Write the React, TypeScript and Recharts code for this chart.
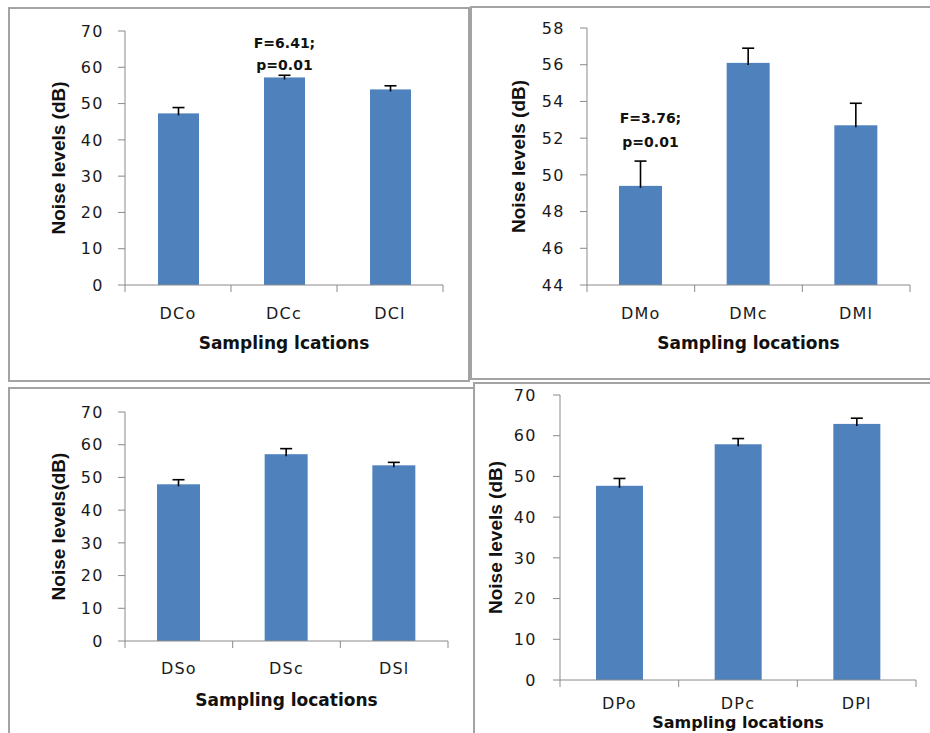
import React from "react";
import { Bar, BarChart, Label, LabelList, XAxis, YAxis } from "recharts";

// top-left panel
const dcCats = ["DCo", "DCc", "DCl"];
const dcMeans = [47.3, 57.2, 53.9];
const dcErrs = [1.6, 0.6, 1.0];
const dcNote = ["F=6.41;", "p=0.01"];

// top-right panel
const dmCats = ["DMo", "DMc", "DMl"];
const dmMeans = [49.4, 56.1, 52.7];
const dmErrs = [1.35, 0.8, 1.2];
const dmNote = ["F=3.76;", "p=0.01"];

// bottom-left panel
const dsCats = ["DSo", "DSc", "DSl"];
const dsMeans = [47.9, 57.1, 53.7];
const dsErrs = [1.4, 1.7, 0.9];

// bottom-right panel
const dpCats = ["DPo", "DPc", "DPl"];
const dpMeans = [47.7, 57.9, 62.9];
const dpErrs = [1.8, 1.4, 1.4];

const ticks0to70 = [0, 10, 20, 30, 40, 50, 60, 70];
const ticks44to58 = [44, 46, 48, 50, 52, 54, 56, 58];

const AXIS = "#8a8a8a";
const BAR = "#4f81bd";
const FONT = "DejaVu Sans";

type Row = { name: string; value: number; err: number };

const rows = (cats: string[], means: number[], errs: number[]): Row[] =>
  cats.map((name, i) => ({ name, value: means[i], err: errs[i] }));

type PanelProps = {
  left: number;
  top: number;
  width: number;
  height: number;
  margin: { top: number; right: number; bottom: number; left: number };
  yAxisWidth: number;
  xAxisHeight: number;
  domain: [number, number];
  ticks: number[];
  data: Row[];
  barSize: number;
  yTitle: string;
  yTitleX: number;
  yTickMargin: number;
  xTitle: string;
  xTitleSize?: number;
  xTickDy: number;
  xTitleDy: number;
  note?: string[];
  noteIndex?: number;
  noteDx?: number;
  noteDy?: [number, number];
};

function CatTick(props: any) {
  const { x, y, payload, index, band, count, labelDy } = props;
  const edge = x - band / 2;
  return (
    <g>
      <line x1={edge} y1={y} x2={edge} y2={y + 7} stroke={AXIS} />
      {index === count - 1 && (
        <line x1={x + band / 2} y1={y} x2={x + band / 2} y2={y + 7} stroke={AXIS} />
      )}
      <text
        x={x}
        y={y + labelDy}
        textAnchor="middle"
        dominantBaseline="central"
        fontSize={16}
        letterSpacing={1.2}
        fontFamily={FONT}
        fill="#1a1a1a"
      >
        {payload.value}
      </text>
    </g>
  );
}

// bar with an upward-only error whisker, scaled from the bar's own pixel height
function BarWithError(s: any, base: number) {
  const { x, y, width, height, payload } = s;
  const perUnit = height / (payload.value - base);
  const top = y - payload.err * perUnit;
  const cx = x + width / 2;
  return (
    <g>
      <rect x={x} y={y} width={width} height={height} fill={BAR} />
      <line x1={cx} y1={y + 2} x2={cx} y2={top} stroke="#000" strokeWidth={1.6} />
      <line x1={cx - 6} y1={top} x2={cx + 6} y2={top} stroke="#000" strokeWidth={1.6} />
    </g>
  );
}

function Panel(p: PanelProps) {
  const plotW = p.width - p.margin.left - p.margin.right - p.yAxisWidth;
  const band = plotW / p.data.length;
  return (
    <div style={{ position: "absolute", left: p.left, top: p.top }}>
      <BarChart
        width={p.width}
        height={p.height}
        data={p.data}
        margin={p.margin}
        barCategoryGap={0}
      >
        <XAxis
          dataKey="name"
          height={p.xAxisHeight}
          stroke={AXIS}
          tickLine={false}
          tickSize={0}
          tickMargin={0}
          interval={0}
          tick={(t: any) => (
            <CatTick {...t} band={band} count={p.data.length} labelDy={p.xTickDy} />
          )}
        >
          <Label
            content={(lp: any) => {
              const vb = lp.viewBox;
              return (
                <text
                  x={vb.x + vb.width / 2}
                  y={vb.y + p.xTitleDy}
                  textAnchor="middle"
                  dominantBaseline="central"
                  fontSize={p.xTitleSize || 17}
                  fontWeight="bold"
                  fontFamily={FONT}
                  fill="#111"
                >
                  {p.xTitle}
                </text>
              );
            }}
          />
        </XAxis>
        <YAxis
          type="number"
          domain={p.domain}
          ticks={p.ticks}
          interval={0}
          width={p.yAxisWidth}
          stroke={AXIS}
          tickSize={7}
          tickMargin={p.yTickMargin}
          allowDataOverflow
          tick={{ fontSize: 16, fontFamily: FONT, fill: "#1a1a1a", letterSpacing: 1.5 }}
        >
          <Label
            content={(lp: any) => {
              const vb = lp.viewBox;
              const cx = p.yTitleX;
              const cy = vb.y + vb.height / 2;
              return (
                <text
                  x={cx}
                  y={cy}
                  transform={`rotate(-90 ${cx} ${cy})`}
                  textAnchor="middle"
                  dominantBaseline="central"
                  fontSize={19}
                  fontWeight="bold"
                  fontFamily="Liberation Sans"
                  fill="#111"
                >
                  {p.yTitle}
                </text>
              );
            }}
          />
        </YAxis>
        <Bar
          dataKey="value"
          fill={BAR}
          barSize={p.barSize}
          isAnimationActive={false}
          shape={(s: any) => BarWithError(s, p.domain[0])}
        >
          {p.note && (
            <LabelList
              dataKey="value"
              content={(lp: any) => {
                if (lp.index !== p.noteIndex) return null;
                const vb = lp.viewBox || lp;
                const cx = vb.x + vb.width / 2 + (p.noteDx || 0);
                const dy = p.noteDy || [30, 10];
                return (
                  <g>
                    {p.note!.map((line, i) => (
                      <text
                        key={line}
                        x={cx}
                        y={vb.y - dy[i]}
                        textAnchor="middle"
                        dominantBaseline="central"
                        fontSize={14}
                        fontWeight="bold"
                        fontFamily={FONT}
                        fill="#111"
                      >
                        {line}
                      </text>
                    ))}
                  </g>
                );
              }}
            />
          )}
        </Bar>
      </BarChart>
    </div>
  );
}

const line = "2px solid #a3a3a3";

export default function App() {
  return (
    <div
      style={{
        position: "absolute",
        left: 0,
        top: 0,
        width: 930,
        height: 733,
        overflow: "hidden",
        background: "#fff",
        fontFamily: FONT,
      }}
    >
      {/* panel frames */}
      <div style={{ position: "absolute", left: 8, top: 7, width: 462, height: 375, border: line, boxSizing: "border-box" }} />
      <div style={{ position: "absolute", left: 470, top: 6, width: 460, height: 374, borderLeft: line, borderTop: line, borderBottom: line, boxSizing: "border-box" }} />
      <div style={{ position: "absolute", left: 8, top: 387, width: 467, height: 346, borderLeft: line, borderTop: line, borderRight: line, boxSizing: "border-box" }} />
      <div style={{ position: "absolute", left: 473, top: 382, width: 457, height: 351, borderLeft: line, borderTop: line, boxSizing: "border-box" }} />

      <Panel
        left={0}
        top={0}
        width={470}
        height={382}
        margin={{ top: 31, right: 27, bottom: 0, left: 0 }}
        yAxisWidth={125}
        xAxisHeight={97}
        domain={[0, 70]}
        ticks={ticks0to70}
        data={rows(dcCats, dcMeans, dcErrs)}
        barSize={41}
        yTitle="Noise levels (dB)"
        yTitleX={58}
        yTickMargin={14}
        xTitle="Sampling lcations"
        xTickDy={28}
        xTitleDy={58}
        note={dcNote}
        noteIndex={1}
        noteDx={0}
        noteDy={[34, 12]}
      />
      <Panel
        left={465}
        top={0}
        width={465}
        height={382}
        margin={{ top: 28, right: 20, bottom: 0, left: 0 }}
        yAxisWidth={122}
        xAxisHeight={97}
        domain={[44, 58]}
        ticks={ticks44to58}
        data={rows(dmCats, dmMeans, dmErrs)}
        barSize={43}
        yTitle="Noise levels (dB)"
        yTitleX={53}
        yTickMargin={15}
        xTitle="Sampling locations"
        xTickDy={28}
        xTitleDy={58}
        note={dmNote}
        noteIndex={0}
        noteDx={10}
        noteDy={[68, 44]}
      />
      <Panel
        left={0}
        top={383}
        width={474}
        height={350}
        margin={{ top: 29, right: 26, bottom: 0, left: 0 }}
        yAxisWidth={125}
        xAxisHeight={92}
        domain={[0, 70]}
        ticks={ticks0to70}
        data={rows(dsCats, dsMeans, dsErrs)}
        barSize={43}
        yTitle="Noise levels(dB)"
        yTitleX={58}
        yTickMargin={14}
        xTitle="Sampling locations"
        xTickDy={27}
        xTitleDy={59}
      />
      <Panel
        left={474}
        top={383}
        width={456}
        height={350}
        margin={{ top: 12, right: 14, bottom: 0, left: 0 }}
        yAxisWidth={86}
        xAxisHeight={53}
        domain={[0, 70]}
        ticks={ticks0to70}
        data={rows(dpCats, dpMeans, dpErrs)}
        barSize={47}
        yTitle="Noise levels (dB)"
        yTitleX={21}
        yTickMargin={16}
        xTitle="Sampling locations"
        xTitleSize={16}
        xTickDy={23}
        xTitleDy={42}
      />
    </div>
  );
}
